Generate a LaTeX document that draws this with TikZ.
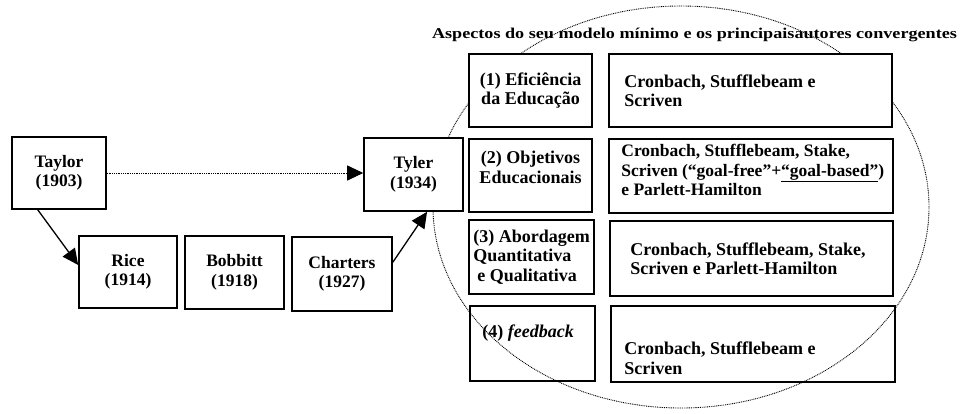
\documentclass[tikz,border=0pt]{standalone}
\usepackage{fontspec}
\setmainfont{Liberation Serif}
\newfontfamily\titlefont{Liberation Serif}[FakeStretch=1.21]
\usetikzlibrary{arrows.meta,shapes.geometric}
\begin{document}
\begin{tikzpicture}[x=1pt,y=-1pt,
  every node/.style={font=\fontsize{17.5}{19.5}\selectfont\bfseries},
  big/.style={font=\fontsize{18}{19.5}\selectfont\bfseries},
  box/.style={draw, line width=1.6pt, inner sep=0pt, fill=white, align=center},
  obox/.style={draw, line width=1.6pt, inner sep=0pt},
  txt/.style={inner sep=0pt, align=center},
  ltxt/.style={inner sep=0pt, align=left},
  arr/.style={line width=1.3pt, -{Triangle[length=16pt,width=15pt]}},
  dots/.style={line width=0.9pt, dash pattern=on 0.9pt off 0.9pt},
]
\useasboundingbox (0,0) rectangle (963,413);

% dotted ellipse (drawn first; some boxes cover it)
\node[ellipse, draw, dots, inner sep=0pt, minimum width=496pt, minimum height=402pt] (scope) at (681,207) {};

% title
\node[txt, anchor=base, font=\titlefont\fontsize{15}{18}\selectfont\bfseries] (title) at (694.5,38) {Aspectos do seu modelo mínimo e os principaisautores convergentes};

% left chain
\node[box, minimum width=94pt, minimum height=72pt] (taylor) at (59,173) {Taylor\\(1903)};
\node[box, minimum width=99pt, minimum height=73pt] (tyler) at (413.5,174.5) {Tyler\\(1934)};
\node[box, minimum width=98pt, minimum height=72pt] (rice) at (128,272) {Rice\\(1914)};
\node[box, minimum width=99pt, minimum height=73pt] (bobbitt) at (234.5,272.5) {Bobbitt\\(1918)};
\node[box, minimum width=100pt, minimum height=74pt] (charters) at (342,274) {Charters\\(1927)};

% aspects column
\node[box, big, minimum width=123pt, minimum height=73pt] (a1) at (530.5,90.5) {(1) Eficiência\\da Educação};
\node[box, minimum width=123pt, minimum height=73pt] (a2) at (530.5,175.5) {};
\node[txt, big] (a2t) at ([yshift=8pt]a2.center) {(2) Objetivos\\Educacionais};
\node[obox, big, minimum width=125pt, minimum height=74pt, align=left] (a3) at (531.5,257) {(3) Abordagem\\Quantitativa\\\hspace*{4pt}e Qualitativa};
\node[obox, minimum width=125pt, minimum height=75pt] (a4) at (532.5,343.5) {};
\node[ltxt, big, anchor=west] (a4t) at ([xshift=13pt,yshift=10pt]a4.west) {(4) \textit{feedback}};

% authors column
\node[box, minimum width=283pt, minimum height=73pt] (c1) at (750.5,90.5) {};
\node[ltxt, big, anchor=west] (c1t) at ([xshift=16pt]c1.west) {Cronbach, Stufflebeam e\\Scriven};
\node[box, minimum width=284pt, minimum height=74pt] (c2) at (751,176) {};
\node[ltxt, anchor=west] (c2t) at ([xshift=13pt,yshift=6pt]c2.west) {Cronbach, Stufflebeam, Stake,\\Scriven (“goal-free”+\underline{“goal-based”})\\e Parlett-Hamilton};
\node[obox, minimum width=283pt, minimum height=75pt] (c3) at (751.5,258.5) {};
\node[ltxt, big, anchor=west] (c3t) at ([xshift=21pt]c3.west) {Cronbach, Stufflebeam, Stake,\\Scriven e Parlett-Hamilton};
\node[obox, minimum width=284pt, minimum height=76pt] (c4) at (753,344) {};
\node[ltxt, big, anchor=west] (c4t) at ([xshift=14pt,yshift=-14pt]c4.west) {Cronbach, Stufflebeam e\\Scriven};

% connectors
\draw[arr] (taylor.240) -- (rice.172);
\draw[arr] (charters.13) -- (tyler.290);
\draw[arr, dots] (taylor.east) -- (taylor.east -| tyler.west);
\end{tikzpicture}
\end{document}
